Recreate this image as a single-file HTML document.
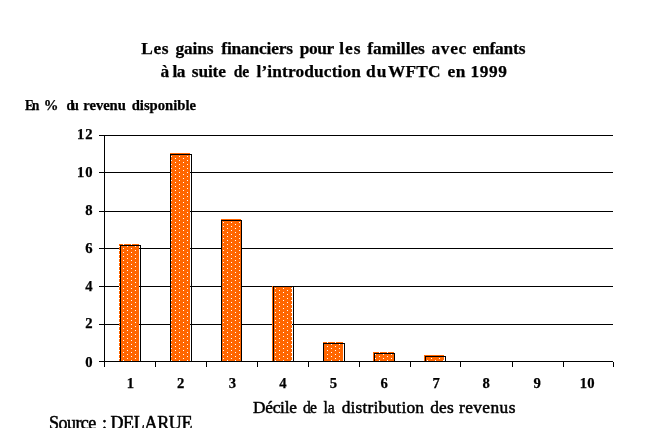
<!DOCTYPE html>
<html lang="fr">
<head>
<meta charset="utf-8">
<title>Les gains financiers pour les familles avec enfants</title>
<style>
html,body{margin:0;padding:0;background:#fff;}
body{width:645px;height:446px;overflow:hidden;}
svg{display:block;}
text{font-family:"Liberation Serif","Times New Roman",Times,serif;fill:#000;stroke:#000;stroke-width:0.5px;}
.b{stroke-width:0.25px;}
.b{font-weight:bold;}
.t{font-size:17.33px;}
.s{font-size:14.67px;}
.u{font-size:18px;}
</style>
</head>
<body>
<svg width="645" height="446" viewBox="0 0 645 446">
<defs>
<pattern id="dots" x="0" y="0" width="8" height="4" patternUnits="userSpaceOnUse">
<rect x="0" y="0" width="8" height="4" fill="#ff6600"/>
<rect x="3" y="0" width="1" height="1" fill="#fff"/>
<rect x="7" y="2" width="1" height="1" fill="#fff"/>
</pattern>
<clipPath id="clipsrc"><rect x="0" y="400" width="645" height="28"/></clipPath>
</defs>
<rect x="0" y="0" width="645" height="446" fill="#fff"/>
<g shape-rendering="crispEdges" fill="#000">
<rect x="99" y="135" width="514" height="1"/>
<rect x="99" y="172" width="514" height="1"/>
<rect x="99" y="211" width="514" height="1"/>
<rect x="99" y="248" width="514" height="1"/>
<rect x="99" y="286" width="514" height="1"/>
<rect x="99" y="324" width="514" height="1"/>
</g>
<g shape-rendering="crispEdges">
<rect x="119" y="244" width="20" height="117" fill="url(#dots)"/>
<rect x="170" y="153" width="20" height="208" fill="url(#dots)"/>
<rect x="221" y="219" width="20" height="142" fill="url(#dots)"/>
<rect x="272" y="286" width="20" height="75" fill="url(#dots)"/>
<rect x="323" y="342" width="20" height="19" fill="url(#dots)"/>
<rect x="373" y="352" width="21" height="9" fill="url(#dots)"/>
<rect x="424" y="355" width="20" height="6" fill="url(#dots)"/>
</g>
<g shape-rendering="crispEdges" fill="#000">
<rect x="120" y="245" width="21" height="1"/><rect x="120" y="245" width="1" height="116"/><rect x="140" y="245" width="1" height="116"/>
<rect x="170" y="154" width="22" height="1"/><rect x="170" y="154" width="1" height="207"/><rect x="191" y="154" width="1" height="207"/>
<rect x="221" y="220" width="21" height="1"/><rect x="221" y="220" width="1" height="141"/><rect x="241" y="220" width="1" height="141"/>
<rect x="273" y="286" width="21" height="1"/><rect x="273" y="286" width="1" height="75"/><rect x="293" y="286" width="1" height="75"/>
<rect x="323" y="343" width="22" height="1"/><rect x="323" y="343" width="1" height="18"/><rect x="344" y="343" width="1" height="18"/>
<rect x="374" y="353" width="21" height="1"/><rect x="374" y="353" width="1" height="8"/><rect x="394" y="353" width="1" height="8"/>
<rect x="425" y="356" width="21" height="1"/><rect x="425" y="356" width="1" height="5"/><rect x="445" y="356" width="1" height="5"/>
<rect x="104" y="135" width="1" height="232"/>
<rect x="99" y="361" width="514" height="1"/>
<rect x="155" y="362" width="1" height="5"/><rect x="206" y="362" width="1" height="5"/><rect x="257" y="362" width="1" height="5"/><rect x="308" y="362" width="1" height="5"/><rect x="359" y="362" width="1" height="5"/><rect x="410" y="362" width="1" height="5"/><rect x="460" y="362" width="1" height="5"/><rect x="512" y="362" width="1" height="5"/><rect x="563" y="362" width="1" height="5"/><rect x="613" y="362" width="1" height="5"/>
</g>
<text class="b t" y="53.7"><tspan x="141.25" style="letter-spacing:0.676px">Les</tspan> <tspan x="175.55" style="letter-spacing:-0.157px">gains</tspan> <tspan x="221.30" style="letter-spacing:-0.168px">financiers</tspan> <tspan x="299.65" style="letter-spacing:-0.363px">pour</tspan> <tspan x="339.25" style="letter-spacing:0.972px">les</tspan> <tspan x="367.35" style="letter-spacing:-0.043px">familles</tspan> <tspan x="431.50" style="letter-spacing:0.660px">avec</tspan> <tspan x="472.50" style="letter-spacing:-0.162px">enfants</tspan></text>
<text class="b t" y="77.0"><tspan x="160.50" style="letter-spacing:0.000px">à</tspan> <tspan x="172.40" style="letter-spacing:-0.564px">la</tspan> <tspan x="191.85" style="letter-spacing:-0.154px">suite</tspan> <tspan x="233.65" textLength="15.25" lengthAdjust="spacingAndGlyphs" style="letter-spacing:-0.193px">de</tspan> <tspan x="256.45" style="letter-spacing:0.141px">l’introduction</tspan> <tspan x="365.95" style="letter-spacing:1.163px">du</tspan> <tspan x="388.00" style="letter-spacing:0.193px">WFTC</tspan> <tspan x="447.50" style="letter-spacing:0.659px">en</tspan> <tspan x="470.40" style="letter-spacing:0.636px">1999</tspan></text>
<text class="b s" y="110.2"><tspan x="24.95" textLength="12.54" lengthAdjust="spacingAndGlyphs" style="letter-spacing:-1.998px">En</tspan> <tspan x="43.70" style="letter-spacing:0.000px">%</tspan> <tspan x="66.55" textLength="9.90" lengthAdjust="spacingAndGlyphs" style="letter-spacing:-2.651px">du</tspan> <tspan x="83.25" style="letter-spacing:-0.056px">revenu</tspan> <tspan x="131.65" style="letter-spacing:0.011px">disponible</tspan></text>
<text class="b s" x="92.6" y="139" text-anchor="end"><tspan style="letter-spacing:1px">1</tspan>2</text>
<text class="b s" x="92.6" y="177.2" text-anchor="end"><tspan style="letter-spacing:1px">1</tspan>0</text>
<text class="b s" x="92.6" y="215" text-anchor="end">8</text>
<text class="b s" x="92.6" y="253" text-anchor="end">6</text>
<text class="b s" x="92.6" y="291" text-anchor="end">4</text>
<text class="b s" x="92.6" y="328" text-anchor="end">2</text>
<text class="b s" x="92.6" y="367" text-anchor="end">0</text>
<text class="b s" x="130.4" y="388.3" text-anchor="middle">1</text>
<text class="b s" x="180.6" y="388.3" text-anchor="middle">2</text>
<text class="b s" x="232.3" y="388.3" text-anchor="middle">3</text>
<text class="b s" x="282.9" y="388.3" text-anchor="middle">4</text>
<text class="b s" x="333.3" y="388.3" text-anchor="middle">5</text>
<text class="b s" x="384.1" y="388.3" text-anchor="middle">6</text>
<text class="b s" x="436.1" y="388.3" text-anchor="middle">7</text>
<text class="b s" x="486.2" y="388.3" text-anchor="middle">8</text>
<text class="b s" x="537.2" y="388.3" text-anchor="middle">9</text>
<text class="b s" x="579.8" y="388.3"><tspan style="letter-spacing:0.2px">1</tspan>0</text>
<text class="t" y="413"><tspan x="252.90" style="letter-spacing:-0.235px">Décile</tspan> <tspan x="302.90" textLength="13.32" lengthAdjust="spacingAndGlyphs" style="letter-spacing:-0.775px">de</tspan> <tspan x="323.45" textLength="11.19" lengthAdjust="spacingAndGlyphs" style="letter-spacing:-0.037px">la</tspan> <tspan x="341.70" style="letter-spacing:0.214px">distribution</tspan> <tspan x="430.20" style="letter-spacing:0.172px">des</tspan> <tspan x="458.95" style="letter-spacing:0.434px">revenus</tspan></text>
<g clip-path="url(#clipsrc)"><text class="u" y="429.3"><tspan x="49.00" style="letter-spacing:-0.539px">Source</tspan> <tspan x="102.10" style="letter-spacing:0.000px">:</tspan> <tspan x="110.40" style="letter-spacing:-0.307px">DELARUE</tspan></text></g>
</svg>
</body>
</html>
